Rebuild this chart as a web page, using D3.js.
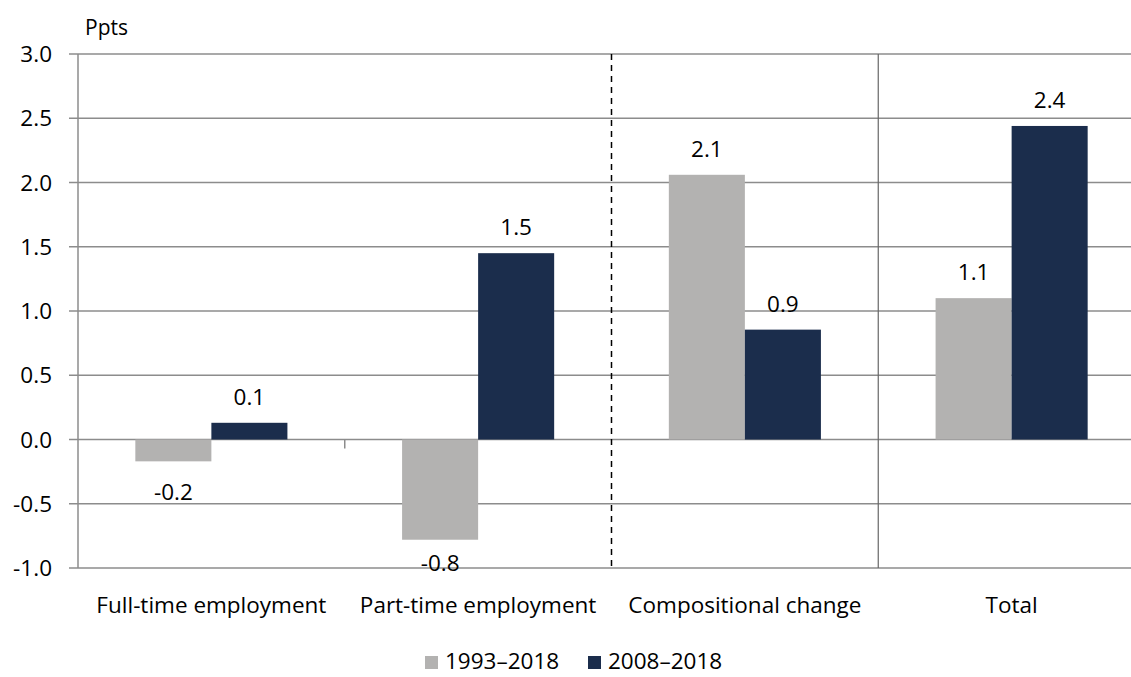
<!DOCTYPE html>
<html>
<head>
<meta charset="utf-8">
<script src="https://cdn.jsdelivr.net/npm/d3@7"></script>
<style>
  body { margin: 0; background: #fff; }
  svg text { font-family: "Open Sans", "Noto Sans", sans-serif; fill: #000; }
</style>
</head>
<body>
<div id="graf"></div>
<script>
// datos
const categorias = ["Full-time employment", "Part-time employment", "Compositional change", "Total"];
const series = ["1993–2018", "2008–2018"];
const valores1993 = [-0.17, -0.78, 2.06, 1.10];
const valores2008 = [0.13, 1.45, 0.855, 2.44];
const etiquetas1993 = ["-0.2", "-0.8", "2.1", "1.1"];
const etiquetas2008 = ["0.1", "1.5", "0.9", "2.4"];
const ticksY = [-1.0, -0.5, 0.0, 0.5, 1.0, 1.5, 2.0, 2.5, 3.0];
const colores = ["#b3b2b1", "#1b2d4c"];

const anchoTotal = 1131, altoTotal = 677;
const margins = { top: 54, left: 78, right: -14, bottom: 109 };
const ancho = anchoTotal - margins.left - margins.right;
const alto = altoTotal - margins.top - margins.bottom;
const fs = "22.5px";

const svg = d3.select("#graf").append("svg")
  .attr("width", anchoTotal)
  .attr("height", altoTotal);

const g = svg.append("g")
  .attr("transform", `translate(${margins.left}, ${margins.top})`);

// escaladores
const y = d3.scaleLinear().domain([-1, 3]).range([alto, 0]);
const x = d3.scaleBand().domain(categorias).range([0, ancho]).padding(0);
const xSub = d3.scaleBand().domain(series).range([0, x.bandwidth()]).paddingInner(0).paddingOuter(0.754);

// lineas de cuadricula
g.append("g").selectAll("line").data(ticksY).join("line")
  .attr("x1", -9).attr("x2", ancho)
  .attr("y1", d => y(d)).attr("y2", d => y(d))
  .attr("stroke", "#8c8c8c").attr("stroke-width", 1.5);

// eje y
g.append("line").attr("x1", 0).attr("x2", 0).attr("y1", 0).attr("y2", alto)
  .attr("stroke", "#8c8c8c").attr("stroke-width", 1.5);

g.append("g").selectAll("text").data(ticksY).join("text")
  .attr("x", -26).attr("y", d => y(d))
  .attr("dy", "0.36em").attr("text-anchor", "end")
  .style("font-size", fs)
  .text(d => d.toFixed(1));

svg.append("text").attr("x", 85).attr("y", 35).style("font-size", "21px").text("Ppts");

// separadores
const limites = categorias.slice(1).map(c => x(c));
g.append("line")
  .attr("x1", limites[0]).attr("x2", limites[0]).attr("y1", y(0)).attr("y2", y(0) + 9)
  .attr("stroke", "#8c8c8c").attr("stroke-width", 1.5);
g.append("line")
  .attr("x1", limites[1]).attr("x2", limites[1]).attr("y1", 0).attr("y2", alto)
  .attr("stroke", "#000").attr("stroke-width", 1.5).attr("stroke-dasharray", "6,5");
g.append("line")
  .attr("x1", limites[2]).attr("x2", limites[2]).attr("y1", 0).attr("y2", alto)
  .attr("stroke", "#666").attr("stroke-width", 1.2);

// barras
const datos = [];
categorias.forEach((c, i) => {
  datos.push({ cat: c, serie: series[0], v: valores1993[i], et: etiquetas1993[i], color: colores[0] });
  datos.push({ cat: c, serie: series[1], v: valores2008[i], et: etiquetas2008[i], color: colores[1] });
});

g.append("g").selectAll("rect").data(datos).join("rect")
  .attr("x", d => x(d.cat) + xSub(d.serie))
  .attr("y", d => y(Math.max(0, d.v)))
  .attr("width", xSub.bandwidth())
  .attr("height", d => Math.abs(y(d.v) - y(0)))
  .attr("fill", d => d.color);

// etiquetas de valores
g.append("g").selectAll("text").data(datos).join("text")
  .attr("x", d => x(d.cat) + xSub(d.serie) + xSub.bandwidth() / 2)
  .attr("y", d => d.v >= 0 ? y(d.v) - 18 : Math.min(y(d.v) + 39, alto + 3))
  .attr("text-anchor", "middle")
  .style("font-size", fs)
  .text(d => d.et);

// etiquetas de categorias
g.append("g").selectAll("text").data(categorias).join("text")
  .attr("x", d => x(d) + x.bandwidth() / 2)
  .attr("y", alto + 45)
  .attr("text-anchor", "middle")
  .style("font-size", fs)
  .text(d => d);

// leyenda
const leyenda = svg.append("g").attr("transform", "translate(425, 656)");
const posLeyenda = [0, 163];
series.forEach((s, i) => {
  leyenda.append("rect").attr("x", posLeyenda[i]).attr("y", 0).attr("width", 13).attr("height", 13).attr("fill", colores[i]);
  leyenda.append("text").attr("x", posLeyenda[i] + 20).attr("y", 13).style("font-size", fs).text(s);
});
</script>
</body>
</html>
